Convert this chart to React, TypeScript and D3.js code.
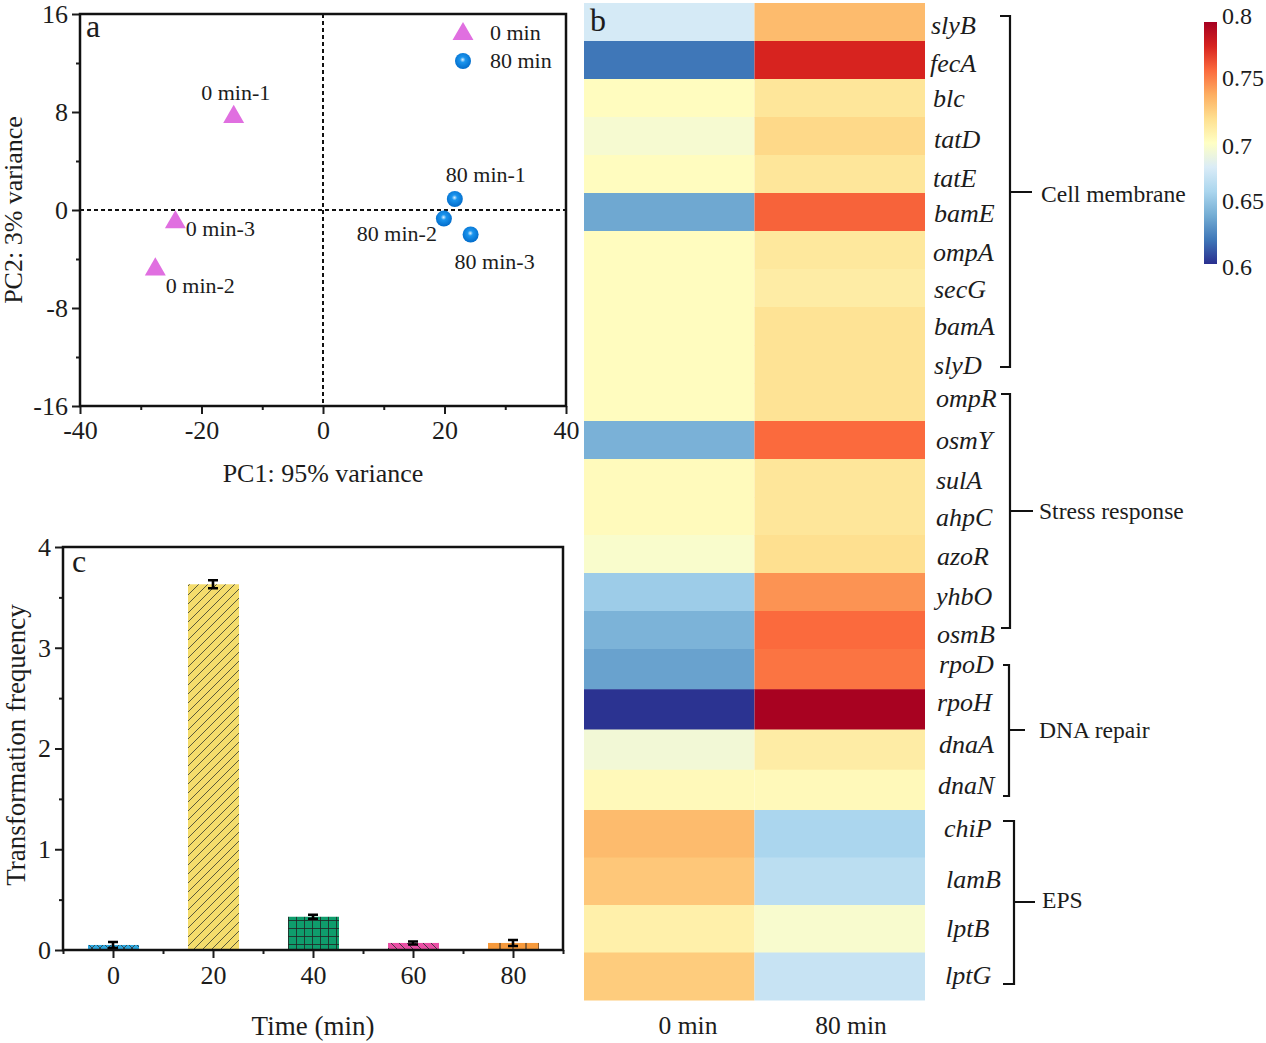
import * as d3 from "d3";
import { useEffect, useRef } from "react";

// panel a, PCA scores
const pcaEarly = [
  { x: -14.7, y: 7.6, name: "0 min-1" },
  { x: -27.6, y: -4.85, name: "0 min-2" },
  { x: -24.3, y: -1.0, name: "0 min-3" },
];
const pcaLate = [
  { x: 21.7, y: 0.9, name: "80 min-1" },
  { x: 19.9, y: -0.7, name: "80 min-2" },
  { x: 24.3, y: -2.0, name: "80 min-3" },
];

// panel b, expression heatmap
const genesTop = ["slyB", "fecA", "blc", "tatD", "tatE", "bamE", "ompA", "secG", "bamA", "slyD", "ompR", "osmY", "sulA", "ahpC", "azoR", "yhbO", "osmB"];
const genesMid = ["rpoD", "rpoH", "dnaA", "dnaN"];
const genesEps = ["chiP", "lamB", "lptB", "lptG"];
const heatColumns = ["0 min", "80 min"];
const values0 = [0.678, 0.62, 0.702, 0.695, 0.702, 0.638, 0.702, 0.702, 0.702, 0.702, 0.702, 0.642, 0.703, 0.703, 0.697, 0.655, 0.643, 0.636, 0.601, 0.693, 0.704, 0.735, 0.73, 0.71, 0.728];
const values80 = [0.735, 0.78, 0.716, 0.723, 0.716, 0.762, 0.715, 0.712, 0.718, 0.718, 0.718, 0.76, 0.716, 0.716, 0.72, 0.748, 0.76, 0.757, 0.799, 0.712, 0.704, 0.66, 0.667, 0.696, 0.672];
const colorTicks = [0.6, 0.65, 0.7, 0.75, 0.8];
const colorStops = ["#2a2f8f", "#3f77b8", "#74add4", "#abd6ee", "#daecf7", "#ffffc4", "#fee090", "#fdae61", "#fb6a3d", "#d7231f", "#a50021"];

// panel c, transformation frequency
const times = [0, 20, 40, 60, 80];
const frequency = [0.05, 3.63, 0.33, 0.07, 0.07];
const frequencyErr = [0.03, 0.04, 0.02, 0.015, 0.03];
const barColors = ["#2ea8df", "#f4dc6c", "#0f9d6c", "#ea4fa5", "#f79a3c"];

const SERIF = "'Liberation Serif', serif";
const INK = "#1c1c1c";

export default function App() {
  const ref = useRef<SVGSVGElement>(null);

  useEffect(() => {
    if (!ref.current) return;
    const svg = d3.select(ref.current);
    svg.selectAll("*").remove();
    svg.style("font-family", SERIF);
    const defs = svg.append("defs");

    // hatch patterns for the bars
    const hatch = (id: string, size: number, bg: string, paths: string, sw: number, ink = "#222") => {
      const p = defs
        .append("pattern")
        .attr("id", id)
        .attr("patternUnits", "userSpaceOnUse")
        .attr("width", size)
        .attr("height", size);
      p.append("rect").attr("width", size).attr("height", size).attr("fill", bg);
      p.append("path").attr("d", paths).attr("stroke", ink).attr("stroke-width", sw).attr("fill", "none");
    };
    hatch("bar0", 8, barColors[0], "M0,8L8,0M-2,2L2,-2M6,10L10,6M0,0L8,8M-2,6L2,10M6,-2L10,2", 0.8, "#333");
    hatch("bar1", 9, barColors[1], "M0,9L9,0M-2,2L2,-2M7,11L11,7", 1, "#5a5a3a");
    hatch("bar2", 8, barColors[2], "M0,0.5H8M0.5,0V8", 0.8);
    hatch("bar3", 8, barColors[3], "M0,0L8,8M-2,6L2,10M6,-2L10,2", 0.9, "#333");
    hatch("bar4", 13, barColors[4], "M6,0V13", 1);

    const sphere = defs
      .append("radialGradient")
      .attr("id", "sphere")
      .attr("cx", "0.48")
      .attr("cy", "0.42")
      .attr("r", "0.6");
    sphere.append("stop").attr("offset", "0%").attr("stop-color", "#dff2ff");
    sphere.append("stop").attr("offset", "28%").attr("stop-color", "#1b95ee");
    sphere.append("stop").attr("offset", "100%").attr("stop-color", "#0069c8");

    const styleAxis = (g: any, size = 26) => {
      g.select(".domain").remove();
      g.selectAll("line").attr("stroke", INK).attr("stroke-width", 2);
      g.selectAll("text").attr("font-size", size).attr("font-family", SERIF).attr("fill", INK);
    };

    // ---- panel a ----
    const ax = d3.scaleLinear().domain([-40, 40]).range([80, 566]);
    const ay = d3.scaleLinear().domain([-16, 16]).range([406, 14]);

    svg.append("g").attr("transform", "translate(0,406)")
      .call(d3.axisBottom(ax).tickValues(d3.range(-40, 41, 20)).tickSize(8).tickPadding(7).tickFormat((d) => String(d)))
      .call(styleAxis);
    svg.append("g").attr("transform", "translate(0,406)")
      .call(d3.axisBottom(ax).tickValues(d3.range(-30, 31, 20)).tickSize(4).tickFormat(() => ""))
      .call(styleAxis);
    svg.append("g").attr("transform", "translate(80,0)")
      .call(d3.axisLeft(ay).tickValues(d3.range(-16, 17, 8)).tickSize(8).tickPadding(4).tickFormat((d) => String(d)))
      .call(styleAxis);
    svg.append("g").attr("transform", "translate(80,0)")
      .call(d3.axisLeft(ay).tickValues(d3.range(-12, 13, 8)).tickSize(4).tickFormat(() => ""))
      .call(styleAxis);

    svg.append("rect").attr("x", ax(-40)).attr("y", ay(16))
      .attr("width", ax(40) - ax(-40)).attr("height", ay(-16) - ay(16))
      .attr("fill", "none").attr("stroke", "#111").attr("stroke-width", 2.5);

    svg.append("line").attr("x1", ax(-40)).attr("x2", ax(40)).attr("y1", ay(0)).attr("y2", ay(0))
      .attr("stroke", "#111").attr("stroke-width", 2).attr("stroke-dasharray", "4 3");
    svg.append("line").attr("x1", ax(0)).attr("x2", ax(0)).attr("y1", ay(16)).attr("y2", ay(-16))
      .attr("stroke", "#111").attr("stroke-width", 2).attr("stroke-dasharray", "4 3");

    const triangle = d3.symbol().type(d3.symbolTriangle).size(190);
    svg.selectAll(".pca-early").data(pcaEarly).enter().append("path")
      .attr("class", "pca-early")
      .attr("d", triangle)
      .attr("transform", (d) => `translate(${ax(d.x)},${ay(d.y)})`)
      .attr("fill", "#e06fe0");
    svg.selectAll(".pca-late").data(pcaLate).enter().append("circle")
      .attr("class", "pca-late")
      .attr("cx", (d) => ax(d.x)).attr("cy", (d) => ay(d.y)).attr("r", 8)
      .attr("fill", "url(#sphere)");

    // point labels sit by hand around the markers
    const earlyNudge = [[2, -22], [45, 19], [45, 9]];
    const lateNudge = [[31, -22], [-47, 17], [24, 29]];
    svg.selectAll(".pca-early-label").data(pcaEarly).enter().append("text")
      .attr("class", "pca-early-label")
      .attr("x", (d, i) => ax(d.x) + earlyNudge[i][0]).attr("y", (d, i) => ay(d.y) + earlyNudge[i][1])
      .attr("text-anchor", "middle").attr("dominant-baseline", "middle")
      .attr("font-size", 22).attr("fill", INK).text((d) => d.name);
    svg.selectAll(".pca-late-label").data(pcaLate).enter().append("text")
      .attr("class", "pca-late-label")
      .attr("x", (d, i) => ax(d.x) + lateNudge[i][0]).attr("y", (d, i) => ay(d.y) + lateNudge[i][1])
      .attr("text-anchor", "middle").attr("dominant-baseline", "middle")
      .attr("font-size", 22).attr("fill", INK).text((d) => d.name);

    // legend
    svg.append("path").attr("d", triangle).attr("transform", "translate(463,34)").attr("fill", "#e06fe0");
    svg.append("circle").attr("cx", 463).attr("cy", 61).attr("r", 8).attr("fill", "url(#sphere)");
    svg.append("text").attr("x", 490).attr("y", 40).attr("font-size", 22).attr("fill", INK).text("0 min");
    svg.append("text").attr("x", 490).attr("y", 68).attr("font-size", 22).attr("fill", INK).text("80 min");

    svg.append("text").attr("x", 86).attr("y", 37).attr("font-size", 32).attr("fill", INK).text("a");
    svg.append("text").attr("x", 323).attr("y", 482).attr("text-anchor", "middle").attr("font-size", 26).attr("fill", INK).text("PC1: 95% variance");
    svg.append("text").attr("transform", "translate(22,210) rotate(-90)").attr("text-anchor", "middle").attr("font-size", 26).attr("fill", INK).text("PC2: 3% variance");

    // ---- panel b ----
    const heatColor = d3
      .scaleLinear<string>()
      .domain(colorStops.map((_, i) => 0.6 + i * 0.02))
      .range(colorStops);
    const colX = d3.scaleBand().domain(heatColumns).range([584, 925]);
    // rows are taller in the lower two blocks
    const blocks = [
      { genes: genesTop, range: [3, 649] },
      { genes: genesMid, range: [649, 810] },
      { genes: genesEps, range: [810, 1000] },
    ];
    let offset = 0;
    blocks.forEach((b) => {
      const rowY = d3.scaleBand().domain(b.genes).range(b.range as [number, number]);
      b.genes.forEach((gene, i) => {
        [values0, values80].forEach((vals, c) => {
          svg.append("rect")
            .attr("x", colX(heatColumns[c])!)
            .attr("y", rowY(gene)!)
            .attr("width", colX.bandwidth())
            .attr("height", rowY.bandwidth() + 0.5)
            .attr("fill", heatColor(vals[offset + i]));
        });
      });
      offset += b.genes.length;
    });

    // gene labels were placed by hand in the figure, [left, centre y]
    const geneLabelPos = [
      [931, 28], [930, 66], [933, 101], [934, 142], [933, 181], [934, 216], [933, 255], [934, 292], [934, 329], [934, 368],
      [936, 401], [936, 443], [936, 483], [936, 520], [937, 559], [936, 599], [937, 637],
      [939, 667], [937, 705], [939, 747], [938, 788],
      [944, 831], [946, 882], [946, 931], [945, 978],
    ];
    const allGenes = [...genesTop, ...genesMid, ...genesEps];
    svg.selectAll(".gene").data(allGenes).enter().append("text")
      .attr("class", "gene")
      .attr("x", (_, i) => geneLabelPos[i][0]).attr("y", (_, i) => geneLabelPos[i][1])
      .attr("dominant-baseline", "middle")
      .attr("font-size", 26).attr("font-style", "italic").attr("fill", INK)
      .text((d) => d);

    const columnLabelX = [688, 851];
    heatColumns.forEach((c, i) => {
      svg.append("text").attr("x", columnLabelX[i]).attr("y", 1034).attr("text-anchor", "middle")
        .attr("font-size", 25.5).attr("fill", INK).text(c);
    });
    svg.append("text").attr("x", 590).attr("y", 31).attr("font-size", 32).attr("fill", INK).text("b");

    // brackets
    const brackets = [
      { name: "Cell membrane", top: 16, bottom: 367, x: 1010, hook: 1000, mid: 192, tip: 1032, tx: 1041, ty: 197 },
      { name: "Stress response", top: 394, bottom: 628, x: 1010, hook: 1001, mid: 511, tip: 1033, tx: 1039, ty: 514 },
      { name: "DNA repair", top: 665, bottom: 796, x: 1009, hook: 1003, mid: 730, tip: 1025, tx: 1039, ty: 733 },
      { name: "EPS", top: 821, bottom: 984, x: 1014, hook: 1003, mid: 902, tip: 1035, tx: 1042, ty: 903 },
    ];
    brackets.forEach((b) => {
      svg.append("path")
        .attr("d", `M${b.hook},${b.top}H${b.x}V${b.bottom}H${b.hook}M${b.x},${b.mid}H${b.tip}`)
        .attr("fill", "none").attr("stroke", "#111").attr("stroke-width", 2.2);
      svg.append("text").attr("x", b.tx).attr("y", b.ty).attr("dominant-baseline", "middle")
        .attr("font-size", 23.6).attr("fill", INK).text(b.name);
    });

    // colour bar
    const barY = d3.scaleLinear().domain([0.6, 0.8]).range([264, 22]);
    const grad = defs.append("linearGradient").attr("id", "colorbar")
      .attr("x1", "0").attr("y1", "1").attr("x2", "0").attr("y2", "0");
    colorStops.forEach((c, i) => {
      grad.append("stop").attr("offset", `${i * 10}%`).attr("stop-color", c);
    });
    svg.append("rect").attr("x", 1204).attr("y", barY(0.8)).attr("width", 13)
      .attr("height", barY(0.6) - barY(0.8)).attr("fill", "url(#colorbar)");
    const tickNudge = [5, -0.5, 5, -2.5, -4];
    colorTicks.forEach((t, i) => {
      svg.append("text").attr("x", 1222).attr("y", barY(t) + tickNudge[i])
        .attr("dominant-baseline", "middle").attr("font-size", 24).attr("fill", INK).text(String(t));
    });

    // ---- panel c ----
    const cx = d3.scaleLinear().domain([-10, 90]).range([63, 563]);
    const cy = d3.scaleLinear().domain([0, 4]).range([950, 547]);

    const bars = svg.selectAll(".bar").data(frequency).enter();
    bars.append("rect").attr("class", "bar")
      .attr("x", (_, i) => cx(times[i] - 5))
      .attr("y", (d) => cy(d))
      .attr("width", cx(5.2) - cx(-5))
      .attr("height", (d) => cy(0) - cy(d))
      .attr("fill", (_, i) => `url(#bar${i})`);

    frequency.forEach((v, i) => {
      const x = cx(times[i]);
      const hi = cy(v + frequencyErr[i]);
      const lo = cy(v - frequencyErr[i]);
      svg.append("path")
        .attr("d", `M${x - 5},${hi}H${x + 5}M${x},${hi}V${lo}M${x - 5},${lo}H${x + 5}`)
        .attr("stroke", "#000").attr("stroke-width", 2.6).attr("fill", "none");
    });

    svg.append("g").attr("transform", "translate(0,950)")
      .call(d3.axisBottom(cx).tickValues(times).tickSize(8).tickPadding(8).tickFormat((d) => String(d)))
      .call(styleAxis);
    svg.append("g").attr("transform", "translate(0,950)")
      .call(d3.axisBottom(cx).tickValues(d3.range(-10, 91, 20)).tickSize(4).tickFormat(() => ""))
      .call(styleAxis);
    svg.append("g").attr("transform", "translate(63,0)")
      .call(d3.axisLeft(cy).tickValues([0, 1, 2, 3, 4]).tickSize(8).tickPadding(4).tickFormat((d) => String(d)))
      .call(styleAxis);
    svg.append("g").attr("transform", "translate(63,0)")
      .call(d3.axisLeft(cy).tickValues([0.5, 1.5, 2.5, 3.5]).tickSize(4).tickFormat(() => ""))
      .call(styleAxis);

    svg.append("rect").attr("x", cx(-10)).attr("y", cy(4))
      .attr("width", cx(90) - cx(-10)).attr("height", cy(0) - cy(4))
      .attr("fill", "none").attr("stroke", "#111").attr("stroke-width", 2.5);

    svg.append("text").attr("x", 72).attr("y", 572).attr("font-size", 32).attr("fill", INK).text("c");
    svg.append("text").attr("x", 313).attr("y", 1035).attr("text-anchor", "middle").attr("font-size", 27).attr("fill", INK).text("Time (min)");
    svg.append("text").attr("transform", "translate(25,745) rotate(-90)").attr("text-anchor", "middle").attr("font-size", 27).attr("fill", INK).text("Transformation frequency");
  }, []);

  return (
    <svg
      ref={ref}
      width={1266}
      height={1043}
      style={{ position: "absolute", left: 0, top: 0, background: "#fff" }}
    />
  );
}
